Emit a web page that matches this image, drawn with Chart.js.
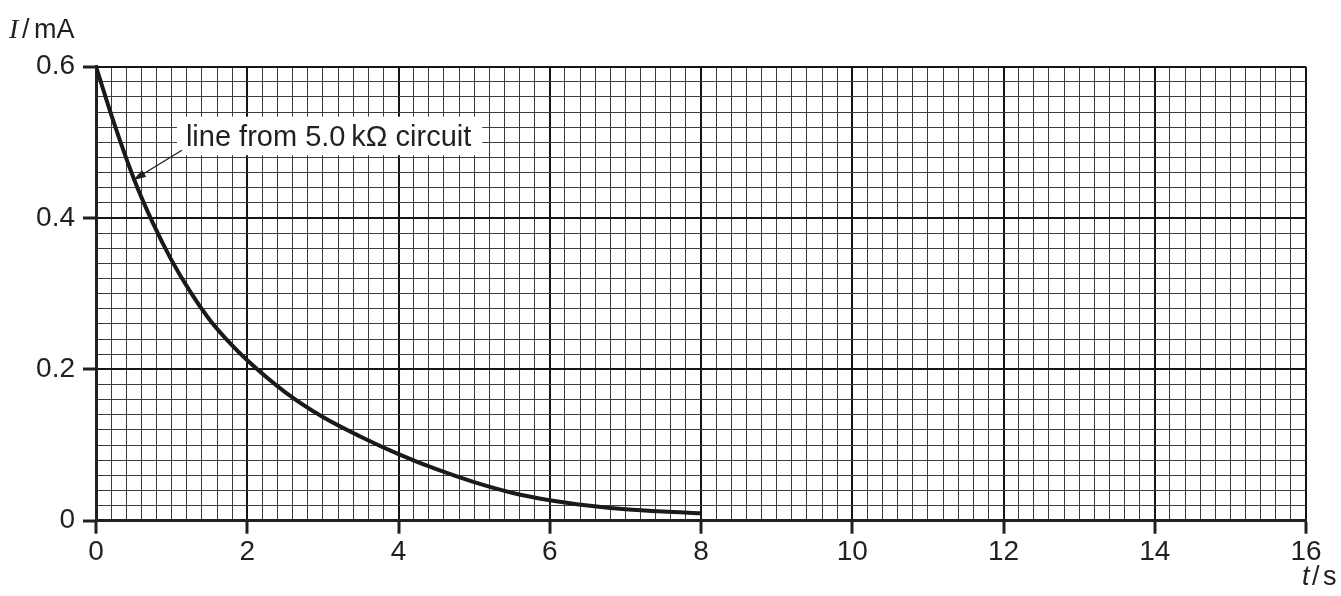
<!DOCTYPE html>
<html>
<head>
<meta charset="utf-8">
<script src="https://cdn.jsdelivr.net/npm/chart.js@4.4.1/dist/chart.umd.min.js"></script>
<style>
  html, body { margin: 0; padding: 0; background: #fff; }
  #wrap { width: 1341px; height: 596px; position: relative; }
</style>
</head>
<body>
<div id="wrap"><canvas id="decayChart"></canvas></div>
<script>
/* ---------- DATA ---------- */
const times   = [0, 0.25, 0.5, 0.75, 1, 1.25, 1.5, 1.75, 2, 2.5, 3, 3.5, 4, 4.5, 5, 5.5, 6, 6.5, 7, 7.5, 8];
const current = [0.600, 0.522, 0.452, 0.394, 0.344, 0.302, 0.266, 0.237, 0.212, 0.170, 0.137,
                 0.111, 0.088, 0.068, 0.051, 0.037, 0.027, 0.020, 0.015, 0.012, 0.010];

const xTickLabels = ["0", "2", "4", "6", "8", "10", "12", "14", "16"];
const yTickLabels = ["0", "0.2", "0.4", "0.6"];
const annotationText = "line from 5.0\u2009k\u03A9 circuit";

const INK = "#231f20";
const FONT = "'Liberation Sans', Arial, Helvetica, sans-serif";

/* ---------- helpers ---------- */
const isMajor = (ctx) => ctx.index % 10 === 0;
const gridColor = (ctx) => isMajor(ctx) ? "#151515" : "#3c3c3c";
const gridWidth = (ctx) => isMajor(ctx) ? 2 : 1;
const tickColor = (ctx) => isMajor(ctx) ? INK : "rgba(0,0,0,0)";

/* ---------- extra text: axis titles + arrow label ---------- */
const paperText = {
  id: "paperText",
  afterDatasetsDraw(chart) {
    const c = chart.ctx;
    const xs = chart.scales.x, ys = chart.scales.y;
    c.save();

    // label box with arrow
    const tipX = xs.getPixelForValue(0.49), tipY = ys.getPixelForValue(0.450);
    const boxL = xs.getPixelForValue(1.07);
    const boxT = ys.getPixelForValue(0.534);
    const boxB = ys.getPixelForValue(0.483);
    c.font = "29px " + FONT;
    const w = c.measureText(annotationText).width;
    c.fillStyle = "#fff";
    c.fillRect(boxL, boxT, w + 20, boxB - boxT);
    c.fillStyle = INK;
    c.textBaseline = "alphabetic";
    c.fillText(annotationText, boxL + 9, boxT + 29);

    // arrow
    const sx = boxL + 5, sy = boxB - 5;
    const ang = Math.atan2(tipY - sy, tipX - sx);
    c.strokeStyle = INK;
    c.lineWidth = 1.4;
    c.beginPath();
    c.moveTo(sx, sy);
    c.lineTo(tipX - 8 * Math.cos(ang), tipY - 8 * Math.sin(ang));
    c.stroke();
    c.beginPath();
    c.moveTo(tipX, tipY);
    c.lineTo(tipX - 13 * Math.cos(ang) + 4 * Math.sin(ang), tipY - 13 * Math.sin(ang) - 4 * Math.cos(ang));
    c.lineTo(tipX - 13 * Math.cos(ang) - 4 * Math.sin(ang), tipY - 13 * Math.sin(ang) + 4 * Math.cos(ang));
    c.closePath();
    c.fill();

    // axis titles
    c.fillStyle = INK;
    c.font = "italic 28px 'Liberation Serif', 'Times New Roman', serif";
    c.fillText("I", 9, 38);
    c.font = "27px " + FONT;
    c.fillText("/", 22, 38);
    c.fillText("mA", 34, 38);

    c.font = "italic 27px " + FONT;
    c.fillText("t", 1302, 585);
    c.font = "27px " + FONT;
    c.fillText("/", 1312, 585);
    c.fillText("s", 1323, 585);

    c.restore();
  }
};

/* ---------- CHART ---------- */
function initChart() {
  new Chart(document.getElementById("decayChart"), {
    type: "line",
    data: {
      datasets: [{
        data: times.map((t, i) => ({ x: t, y: current[i] })),
        borderColor: "#1a1a1a",
        borderWidth: 4,
        pointRadius: 0,
        cubicInterpolationMode: "monotone",
        fill: false
      }]
    },
    options: {
      responsive: true,
      maintainAspectRatio: false,
      animation: false,
      layout: { padding: { top: 66.7, right: 35, left: 0, bottom: 0 } },
      plugins: { legend: { display: false }, tooltip: { enabled: false } },
      scales: {
        x: {
          type: "linear",
          min: 0, max: 16,
          afterFit(s) { s.height = 75.3; },
          ticks: {
            stepSize: 0.2,
            autoSkip: false,
            maxRotation: 0,
            maxTicksLimit: 1000,
            padding: 2,
            color: INK,
            font: { family: FONT, size: 28 },
            callback: (v, i) => i % 10 === 0 ? xTickLabels[i / 10] : ""
          },
          grid: { color: gridColor, lineWidth: gridWidth, tickColor: tickColor, tickWidth: 3, tickLength: 13 },
          border: { color: INK, width: 3 }
        },
        y: {
          type: "linear",
          min: 0, max: 0.6,
          afterFit(s) { s.width = 96; },
          ticks: {
            stepSize: 0.02,
            autoSkip: false,
            maxTicksLimit: 1000,
            padding: 8,
            color: INK,
            font: { family: FONT, size: 28 },
            callback: (v, i) => i % 10 === 0 ? yTickLabels[i / 10] : ""
          },
          grid: { color: gridColor, lineWidth: gridWidth, tickColor: tickColor, tickWidth: 3, tickLength: 13 },
          border: { color: INK, width: 3 }
        }
      }
    },
    plugins: [paperText]
  });
}

window.onload = initChart;
</script>
</body>
</html>
